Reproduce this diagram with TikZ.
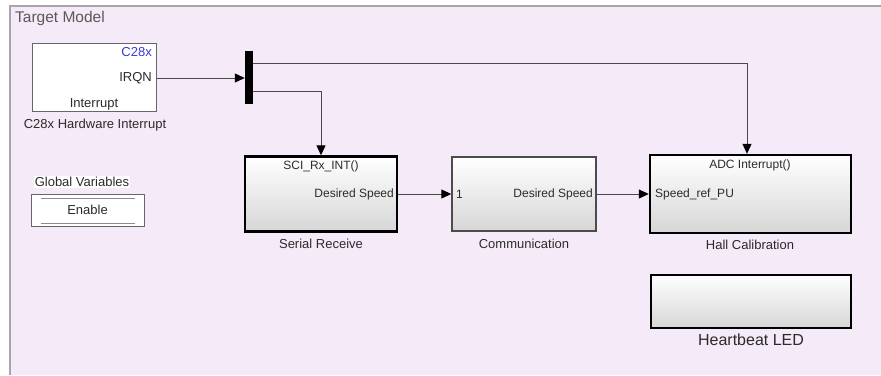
\documentclass[tikz,border=0pt]{standalone}
\usepackage{fontspec}
\setmainfont{Liberation Sans}
\usetikzlibrary{arrows.meta,shadows}
\definecolor{bgpink}{HTML}{F5EAF8}
\definecolor{framegray}{HTML}{A8A4AA}
\definecolor{txt}{HTML}{2B2B2B}
\definecolor{linegray}{HTML}{4A4A4A}
\definecolor{c28blue}{HTML}{3A3AD8}
\tikzset{
  blk/.style={draw=black, line width=2.4pt, top color=white, bottom color=black!16,
    inner sep=0pt, drop shadow={shadow xshift=1pt, shadow yshift=-1pt, opacity=0.25}},
  thinblk/.style={draw=black!70, line width=1.4pt, top color=white, bottom color=black!16,
    inner sep=0pt, drop shadow={shadow xshift=1pt, shadow yshift=-1pt, opacity=0.25}},
  whiteblk/.style={draw=black!60, line width=1pt, fill=white, inner sep=0pt},
  conn/.style={draw=linegray, line width=1pt},
  arr/.style={conn, -{Triangle[length=10pt,width=9pt,black]}},
  intxt/.style={text=txt, font=\fontsize{12}{14}\selectfont, inner sep=0pt},
  lbl/.style={text=txt, font=\fontsize{13}{15}\selectfont, inner sep=0pt},
}
\begin{document}
\begin{tikzpicture}[x=1pt,y=-1pt]
\useasboundingbox (0,0) rectangle (881,375);
\fill[white] (0,0) rectangle (881,375);
\fill[bgpink] (10,6) rectangle (881,375);
\draw[framegray, line width=1.6pt] (10,375) -- (10,6) -- (881,6);
\node[lbl, anchor=west, font=\fontsize{15.5}{17}\selectfont, text=black!65] (title) at (15,18) {Target Model};

% C28x hardware interrupt
\node[whiteblk, minimum width=124pt, minimum height=68pt] (c28) at (94,77) {};
\node[intxt, anchor=east, text=c28blue, font=\fontsize{13}{15}\selectfont] (c28t) at (152,52) {C28x};
\node[intxt, anchor=east, font=\fontsize{13}{15}\selectfont] (irqn) at (152,78) {IRQN};
\node[intxt, font=\fontsize{13}{15}\selectfont] (intr) at (94,104) {Interrupt};
\node[lbl] (c28l) at (95,125) {C28x Hardware Interrupt};

% demux bar
\node[fill=black, minimum width=8pt, minimum height=53pt, inner sep=0pt] (bar) at (249,77) {};

% Global Variables
\node[lbl, fill=white, inner sep=1pt] (gvl) at (82,182) {Global Variables};
\node[whiteblk, minimum width=113pt, minimum height=32pt,
      drop shadow={shadow xshift=1pt, shadow yshift=-1pt, opacity=0.3}] (gv) at (87.5,210) {};
\draw[black!45, line width=1.2pt] ([xshift=10pt,yshift=-5pt]gv.north west) -- ([xshift=-10pt,yshift=-5pt]gv.north east);
\draw[black!45, line width=1.2pt] ([xshift=10pt,yshift=3pt]gv.south west) -- ([xshift=-10pt,yshift=3pt]gv.south east);
\node[lbl] (en) at (87.5,210) {Enable};

% Serial Receive
\node[blk, minimum width=152pt, minimum height=75pt] (serial) at (321,194) {};
\node[intxt] (sci) at (321,166) {SCI\_Rx\_INT()};
\node[intxt, anchor=east] (sds) at (394,194) {Desired Speed};
\node[lbl] (seriall) at (321,244) {Serial Receive};

% Communication
\node[thinblk, minimum width=144pt, minimum height=74pt] (comm) at (524,194) {};
\node[intxt, anchor=west] (one) at (456,194) {1};
\node[intxt, anchor=east] (cds) at (593,194) {Desired Speed};
\node[lbl] (comml) at (524,244) {Communication};

% Hall Calibration
\node[blk, minimum width=201pt, minimum height=78pt] (hall) at (750.5,194) {};
\node[intxt] (adc) at (750,165) {ADC Interrupt()};
\node[intxt, anchor=west] (spd) at (655,194) {Speed\_ref\_PU};
\node[lbl] (halll) at (750,245) {Hall Calibration};

% Heartbeat LED
\node[blk, minimum width=200pt, minimum height=53pt] (hb) at (751,301.5) {};
\node[lbl, font=\fontsize{16}{18}\selectfont] (hbl) at (751,340) {Heartbeat LED};

% connectors
\draw[arr] (c28.east |- irqn) -- (irqn -| bar.west);
\draw[arr] ([yshift=14pt]bar.east) -| ([xshift=-3.5pt]hall.north);
\draw[arr] ([yshift=-14pt]bar.east) -| (serial.north);
\draw[arr] (serial.east) -- (comm.west);
\draw[arr] (comm.east) -- (hall.west);
\end{tikzpicture}
\end{document}
